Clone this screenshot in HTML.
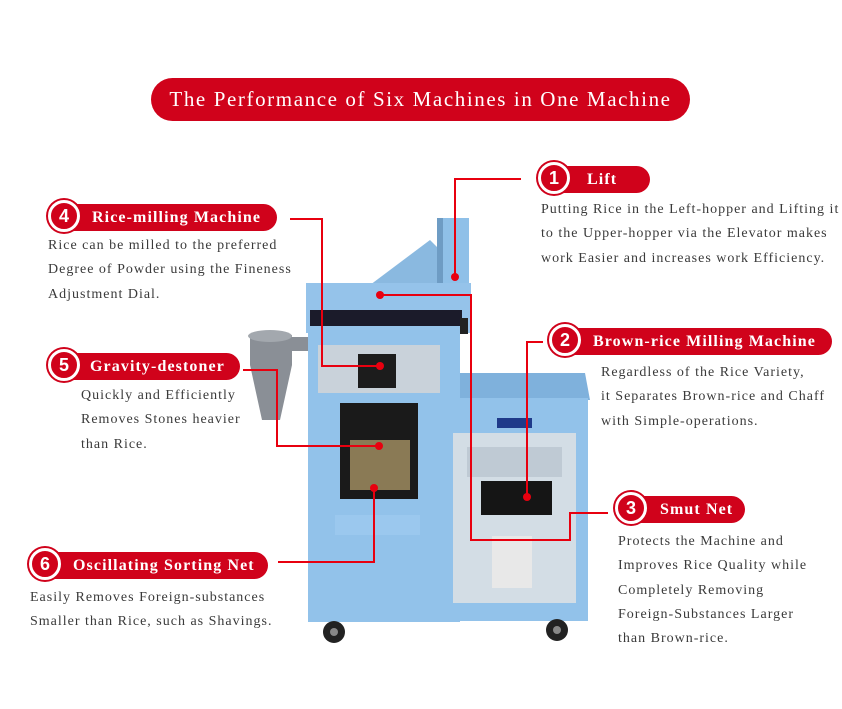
<!DOCTYPE html>
<html><head><meta charset="utf-8"><style>
body{margin:0;width:842px;height:709px;background:#fff;position:relative;overflow:hidden;font-family:"Liberation Serif",serif}
.a{position:absolute}
.hd{left:151px;top:78px;width:539px;height:43px;background:#d0021b;border-radius:22px;color:#fff;font-size:21px;letter-spacing:1.6px;text-align:center;line-height:43px}
.pill{position:absolute;height:27px;background:#d0021b;border-radius:0 14px 14px 0;color:#fff;font-weight:bold;font-size:16px;letter-spacing:1.1px;line-height:27px;box-sizing:border-box;white-space:nowrap}
.c{position:absolute;width:26px;height:26px;border-radius:50%;background:#d0021b;border:3px solid #fff;box-shadow:0 0 0 2px #d0021b;color:#fff;font:bold 18px "Liberation Sans",sans-serif;text-align:center;line-height:26px}
.d{position:absolute;font-size:14px;letter-spacing:1px;line-height:24.3px;color:#3a3a3a;white-space:nowrap}
</style></head><body>
<svg class="a" style="left:0;top:0" width="842" height="709">
<polygon points="370,285 430,240 440,250 440,290" fill="#8ab9e0"/>
<rect x="437" y="218" width="32" height="85" fill="#8fc0e8"/>
<rect x="437" y="218" width="6" height="85" fill="#6e9cc4"/>
<rect x="306" y="283" width="165" height="50" fill="#95c3ea"/>
<rect x="310" y="310" width="152" height="16" fill="#1b1b2a"/>
<rect x="460" y="318" width="8" height="16" fill="#222"/>
<rect x="280" y="337" width="30" height="14" fill="#8a8f96"/>
<polygon points="250,335 292,335 292,365 280,420 262,420 250,365" fill="#8a8f96"/>
<ellipse cx="270" cy="336" rx="22" ry="6" fill="#a3a8ae"/>
<rect x="308" y="330" width="152" height="292" fill="#92c2ea"/>
<rect x="318" y="345" width="122" height="48" fill="#c9d2da"/>
<rect x="358" y="354" width="38" height="34" fill="#1c1c1c"/>
<rect x="340" y="403" width="78" height="96" fill="#1a1a1a"/>
<rect x="350" y="440" width="60" height="50" fill="#8a7a55"/>
<rect x="335" y="515" width="85" height="20" fill="#9bc8ee"/>
<polygon points="460,373 585,373 590,400 460,400" fill="#7fb1dc"/>
<rect x="458" y="398" width="130" height="223" fill="#92c2ea"/>
<rect x="453" y="433" width="123" height="170" fill="#d3dde5"/>
<rect x="467" y="447" width="95" height="30" fill="#bfcad4"/>
<rect x="481" y="481" width="71" height="34" fill="#151515"/>
<rect x="497" y="418" width="35" height="10" fill="#1f3a8a"/>
<rect x="492" y="536" width="40" height="52" fill="#e8e8e8"/>
<circle cx="334" cy="632" r="11" fill="#222"/><circle cx="334" cy="632" r="4" fill="#888"/>
<circle cx="557" cy="630" r="11" fill="#222"/><circle cx="557" cy="630" r="4" fill="#888"/>
<g stroke="#e8000f" stroke-width="2" fill="none">
<polyline points="521,179 455,179 455,277"/>
<polyline points="290,219 322,219 322,366 380,366"/>
<polyline points="243,370 277,370 277,446 379,446"/>
<polyline points="278,562 374,562 374,488"/>
<polyline points="543,342 527,342 527,497"/>
<polyline points="608,513 570,513 570,540 471,540 471,295 380,295"/>
</g>
<g fill="#e8000f">
<circle cx="455" cy="277" r="4"/><circle cx="380" cy="366" r="4"/><circle cx="379" cy="446" r="4"/>
<circle cx="374" cy="488" r="4"/><circle cx="527" cy="497" r="4"/><circle cx="380" cy="295" r="4"/>
</g>
</svg>
<div class="a hd">The Performance of Six Machines in One Machine</div>

<div class="pill" style="left:555px;top:166px;width:95px;padding-left:32px">Lift</div>
<div class="c" style="left:538px;top:162px">1</div>
<div class="d" style="left:541px;top:198px">Putting Rice in the Left-hopper and Lifting it<br>to the Upper-hopper via the Elevator makes<br>work Easier and increases work Efficiency.</div>

<div class="pill" style="left:65px;top:204px;width:212px;padding-left:27px">Rice-milling Machine</div>
<div class="c" style="left:48px;top:200px">4</div>
<div class="d" style="left:48px;top:234px">Rice can be milled to the preferred<br>Degree of Powder using the Fineness<br>Adjustment Dial.</div>

<div class="pill" style="left:65px;top:353px;width:175px;padding-left:25px">Gravity-destoner</div>
<div class="c" style="left:48px;top:349px">5</div>
<div class="d" style="left:81px;top:384px">Quickly and Efficiently<br>Removes Stones heavier<br>than Rice.</div>

<div class="pill" style="left:46px;top:552px;width:222px;padding-left:27px">Oscillating Sorting Net</div>
<div class="c" style="left:29px;top:548px">6</div>
<div class="d" style="left:30px;top:586px">Easily Removes Foreign-substances<br>Smaller than Rice, such as Shavings.</div>

<div class="pill" style="left:566px;top:328px;width:266px;padding-left:27px">Brown-rice Milling Machine</div>
<div class="c" style="left:549px;top:324px">2</div>
<div class="d" style="left:601px;top:361px">Regardless of the Rice Variety,<br>it Separates Brown-rice and Chaff<br>with Simple-operations.</div>

<div class="pill" style="left:632px;top:496px;width:113px;padding-left:28px">Smut Net</div>
<div class="c" style="left:615px;top:492px">3</div>
<div class="d" style="left:618px;top:530px">Protects the Machine and<br>Improves Rice Quality while<br>Completely Removing<br>Foreign-Substances Larger<br>than Brown-rice.</div>
</body></html>
